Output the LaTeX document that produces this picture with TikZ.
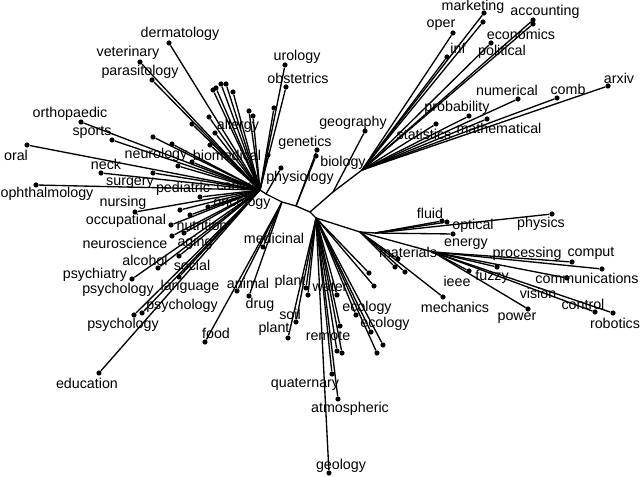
\documentclass[tikz,border=0pt]{standalone}
\usepackage{fontspec}
\setmainfont{Liberation Sans}
\begin{document}
\begin{tikzpicture}[x=0.75pt,y=-0.75pt,
  dot/.style={circle,fill=black,inner sep=0pt,minimum size=3.9pt},
  edge/.style={line width=1pt},
  lab/.style={font=\fontsize{10.7}{12}\selectfont,inner sep=0pt}]
\useasboundingbox (0,0) rectangle (640,477);
% internal nodes
\coordinate (H1) at (260,190);
\coordinate (T1) at (266,194);
\coordinate (T2) at (282,202);
\coordinate (T3) at (296,206);
\coordinate (H2) at (310,212);
\coordinate (H3) at (316,218);
\coordinate (G) at (333,192);
\coordinate (H7) at (362,170);
\coordinate (H4) at (360,232);
\coordinate (H5) at (375,233);
\coordinate (H6) at (433,252);
\draw[edge] (H1) -- (T1) -- (T2) -- (T3) -- (H2) -- (H3) -- (H4) -- (H5);
\draw[edge] (H2) -- (G) -- (H7);
\draw[edge] (H4) -- (H6);
% leaves
\foreach \n/\x/\y/\p in {
 d1/169/43/H1, d2/140/62/H1, d3/152/80/H1, d4/213/90/H1, d5/216/88/H1,
 d6/221/84/H1, d7/226/84/H1, d8/233/92/H1, d9/249/111/H1, d10/253/116/H1,
 d11/192/124/H1, d12/209/117/H1, d13/215/133/H1, d14/210/145/H1,
 d15/81/122/H1, d16/112/140/H1, d17/27/145/H1, d18/153/137/H1, d19/172/144/H1,
 d20/101/173/H1, d21/153/173/H1, d22/178/166/H1, d23/192/162/H1,
 d24/36/185/H1, d25/200/197/H1, d26/255/177/H1, d27/268/155/H1,
 d28/285/65/H1, d29/286/87/H1, d30/274/108/H1,
 d31/135/212/H1, d32/180/210/H1, d33/190/215/H1, d34/208/207/H1,
 d35/171/225/H1, d36/172/236/H1, d37/184/233/H1, d38/179/256/H1,
 d39/158/268/H1, d40/132/279/H1, d41/179/277/H1, d42/134/315/H1,
 d43/142/313/H1, d44/99/373/H1,
 d45/281/168/T1, d46/317/150/T3, d47/316/156/T3,
 d48/263/247/T2, d49/237/291/T2, d50/249/296/T2, d51/205/342/T2,
 d52/365/131/G,
 d53/453/33/H7, d54/484/13/H7, d55/483/22/H7, d56/447/57/H7, d57/533/20/H7,
 d58/533/24/H7, d59/491/43/H7, d60/608/86/H7, d61/557/98/H7, d62/518/99/H7,
 d63/469/116/H7, d64/436/124/H7, d65/487/119/H7,
 d66/306/288/H3, d67/308/295/H3, d68/296/322/H3, d69/288/338/H3,
 d70/337/295/H3, d71/340/326/H3, d72/337/351/H3, d73/342/353/H3,
 d74/332/374/H3, d75/338/399/H3, d76/329/473/H3,
 d77/356/315/H3, d78/371/332/H3, d79/383/345/H3, d80/377/353/H3,
 d81/369/273/H3, d82/374/286/H3,
 d83/442/221/H5, d84/447/222/H5, d85/552/214/H5, d86/453/234/H5,
 d87/398/259/H4, d88/395/267/H4, d89/405/272/H4, d90/443/297/H4,
 d91/572/262/H6, d92/602/269/H6, d93/567/278/H6, d94/469/271/H6,
 d95/497/267/H6, d96/595/312/H6, d97/613/313/H6, d98/528/309/H6}
{\node[dot] (\n) at (\x,\y) {}; \draw[edge] (\p) -- (\n);}
% labels
\foreach \n/\x/\y/\t in {
 l1/180/34/dermatology, l2/128/53/veterinary, l3/140/72/parasitology,
 l4/297/57/urology, l5/298/78/obstetrics, l6/70/114/orthopaedic,
 l7/92/132/sports, l8/238/126/allergy, l9/305/143/genetics,
 l10/16/155/oral, l11/156/155/neurology, l12/227/155/biomedical,
 l13/106/164/neck, l14/300/178/physiology, l15/130/183/surgery,
 l16/183/189/pediatric, l17/238/187/cancer, l18/47/194/ophthalmology,
 l19/123/203/nursing, l20/242/203/oncology, l21/126/221/occupational,
 l22/202/225/nutrition, l23/125/243/neuroscience, l24/195/243/aging,
 l25/274/238/medicinal, l26/145/260/alcohol, l27/192/265/social,
 l28/95/275/psychiatry, l29/118/290/psychology, l30/190/287/language,
 l31/182/306/psychology, l32/123/325/psychology, l33/87/383/education,
 l34/248/283/animal, l35/260/305/drug, l36/216/333/food,
 l37/290/282/plant, l38/290/314/soil, l39/274/329/plant,
 l40/330/287/water, l41/367/308/ecology, l42/385/324/ecology,
 l43/328/336/remote, l44/305/384/quaternary, l45/350/409/atmospheric,
 l46/341/466/geology, l47/353/123/geography, l48/343/163/biology,
 l49/430/213/fluid, l50/473/226/optical, l51/541/224/physics,
 l52/466/244/energy, l53/408/252/materials, l54/527/254/processing,
 l55/591/253/comput, l56/587/278/communications, l57/457/281/ieee,
 l58/492/277/fuzzy, l59/538/293/vision, l60/583/304/control,
 l61/615/323/robotics, l62/517/318/power, l63/455/307/mechanics,
 l64/473/6.5/marketing, l65/545/12/accounting, l66/441/25/oper,
 l67/521/34/economics, l68/458/48/inf, l69/502/52/political,
 l70/619/78/arxiv, l71/507/90/numerical, l72/568/89/comb,
 l73/457/108/probability, l74/424/134/statistics, l75/499/128/mathematical}
{\node[lab] (\n) at (\x,\y) {\t};}
\end{tikzpicture}
\end{document}
